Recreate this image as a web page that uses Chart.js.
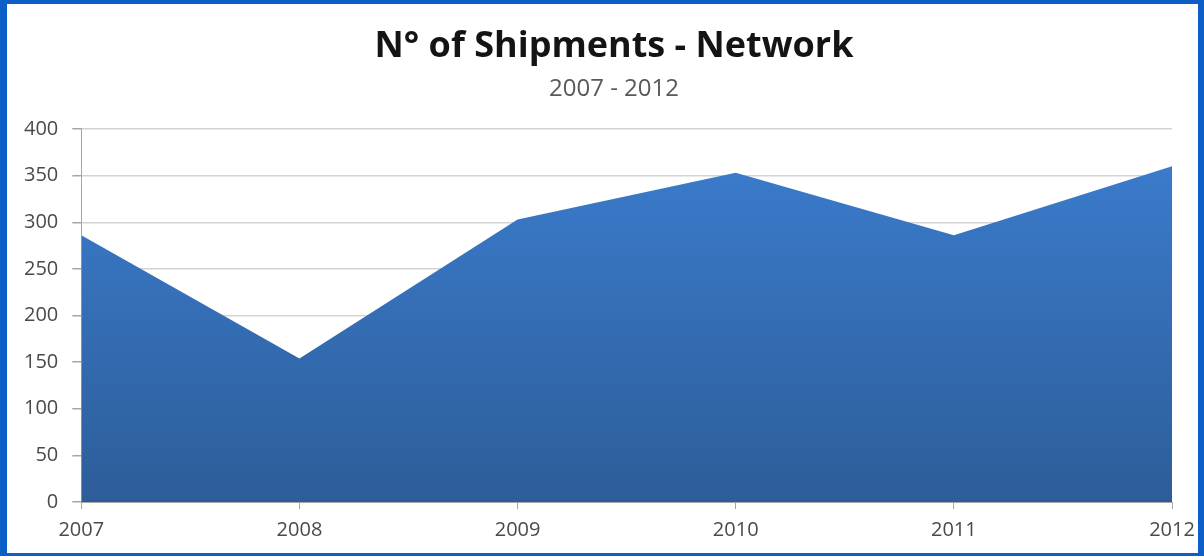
<!DOCTYPE html>
<html>
<head>
<meta charset="utf-8">
<script src="https://cdn.jsdelivr.net/npm/chart.js@4"></script>
<style>
  html, body { margin: 0; padding: 0; width: 1204px; height: 556px; overflow: hidden; background: #0b5fc6; }
  #card { position: absolute; left: 7px; top: 4px; width: 1191px; height: 549px; background: #ffffff; }
  canvas { display: block; position: absolute; left: 0; top: 0; }
</style>
</head>
<body>
<div id="card"><canvas id="c" width="1211" height="549"></canvas></div>
<script>
const categories = ['2007', '2008', '2009', '2010', '2011', '2012'];
const shipments = [286, 154, 303, 353, 286, 360];
const yTicks = [0, 50, 100, 150, 200, 250, 300, 350, 400];
const titleText = 'N° of Shipments - Network';
const subtitleText = '2007 - 2012';

const FONT = '"Open Sans", Lato, "Liberation Sans", sans-serif';

new Chart(document.getElementById('c'), {
  type: 'line',
  data: {
    labels: categories,
    datasets: [{
      label: 'Shipments',
      data: shipments,
      fill: 'origin',
      borderWidth: 0,
      pointRadius: 0,
      tension: 0,
      borderColor: 'rgba(0,0,0,0)',
      backgroundColor: (ctx) => {
        const ca = ctx.chart.chartArea;
        if (!ca) return '#3a78c6';
        const g = ctx.chart.ctx.createLinearGradient(0, ca.top, 0, ca.bottom);
        g.addColorStop(0, '#3c7ed0');
        g.addColorStop(1, '#2d5d99');
        return g;
      }
    }]
  },
  options: {
    responsive: false,
    animation: false,
    layout: { padding: { left: 3, right: 0, top: 0, bottom: 2 } },
    plugins: {
      legend: { display: false },
      tooltip: { enabled: false },
      title: {
        display: true,
        text: titleText,
        color: '#141414',
        font: { family: FONT, size: 36, weight: 'bold' },
        padding: { top: 21, bottom: 7 }
      },
      subtitle: {
        display: true,
        text: subtitleText,
        color: '#595959',
        font: { family: FONT, size: 24 },
        padding: { top: 0, bottom: 25 }
      }
    },
    scales: {
      x: {
        type: 'category',
        offset: false,
        grid: {
          display: true,
          drawOnChartArea: false,
          drawTicks: true,
          tickLength: 7,
          color: '#a6a6a6'
        },
        border: { display: true, color: '#a6a6a6', width: 1 },
        ticks: {
          color: '#4a4a4a',
          font: { family: FONT, size: 20 },
          padding: 9,
          maxRotation: 0,
          autoSkip: false
        }
      },
      y: {
        min: 0,
        max: 400,
        afterBuildTicks: (axis) => { axis.ticks = yTicks.map(v => ({ value: v })); },
        grid: {
          color: '#d4d4d4',
          lineWidth: 1.5,
          drawTicks: true,
          tickLength: 9,
          tickColor: '#a6a6a6'
        },
        border: { display: true, color: '#a6a6a6', width: 1 },
        ticks: {
          color: '#4a4a4a',
          font: { family: FONT, size: 20 },
          padding: 14
        }
      },
      ySpace: {
        position: 'right',
        min: 0,
        max: 400,
        grid: { display: false },
        border: { display: false },
        ticks: { display: false },
        afterFit: (axis) => { axis.width = 46; }
      }
    }
  }
});
</script>
</body>
</html>
